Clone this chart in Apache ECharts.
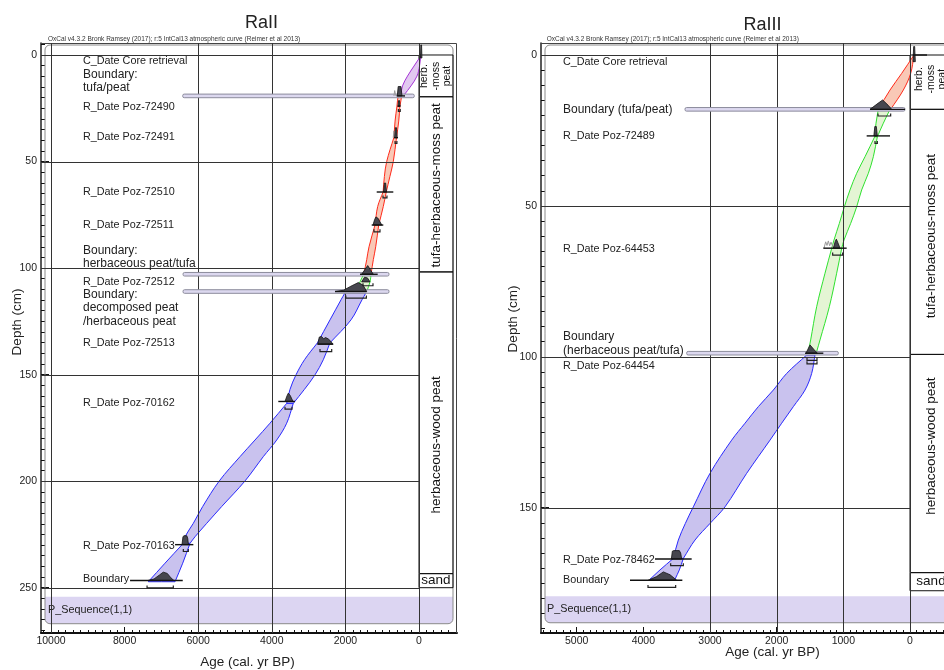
<!DOCTYPE html>
<html>
<head>
<meta charset="utf-8">
<script src="https://cdn.jsdelivr.net/npm/echarts@6/dist/echarts.min.js"></script>
<style>html,body{margin:0;padding:0;background:#fff;overflow:hidden}#chart{width:944px;height:670px}</style>
</head>
<body>
<div id="chart"></div>
<script>
const FONT = '"Liberation Sans", Arial, Helvetica, sans-serif';

// ================= RaII core =================
const raIIAgeTicks = [10000, 8000, 6000, 4000, 2000, 0];
const raIIDepthTicks = [0, 50, 100, 150, 200, 250];
const raIIAgeGrid = [10000, 6000, 4000, 2000, 0];
const raIIDepthGrid = [0, 50, 100, 150, 200, 250];

// modelled age-depth envelopes, one lens per interval between dated levels:
// rows are [depth cm, older edge, younger edge] in cal BP
const raIIPurple = [
  [[0.5, -46, -46], [5.2, 136, -14], [9.9, 312, 54], [14.5, 448, 217], [18.8, 497, 408]]
];
const raIIRed = [
  [[18.8, 562, 470], [21.5, 585, 492], [24.2, 600, 520]],
  [[24.2, 600, 520], [31.0, 650, 550], [38.6, 680, 610]],
  [[38.6, 680, 610], [50.0, 878, 698], [57.0, 940, 790], [64.3, 975, 890]],
  [[64.3, 975, 890], [71.1, 1122, 970], [79.8, 1195, 1095]],
  [[79.8, 1195, 1095], [90.0, 1358, 1176], [96.0, 1420, 1240], [102.5, 1494, 1300]]
];
const raIIGreen = [
  [[102.5, 1494, 1300], [106.5, 1603, 1331], [110.7, 1712, 1413]]
];
const raIIBlue = [
  [[111.6, 2011, 1440], [114.9, 2119, 1549], [124.3, 2418, 1848], [135.1, 2760, 2420]],
  [[135.1, 2760, 2420], [143.0, 3110, 2600], [150.1, 3342, 2826], [157.0, 3507, 3117], [163.5, 3595, 3416]],
  [[163.5, 3595, 3416], [172.8, 4049, 3595], [180.7, 4457, 3867], [188.5, 4864, 4231], [199.9, 5427, 4728],
   [211.9, 5878, 5361], [219.8, 6133, 5769], [226.1, 6359, 6087], [229.2, 6405, 6223]],
  [[229.2, 6405, 6223], [238.5, 6902, 6421], [247.2, 7356, 6630]]
];

// posterior densities: [baseline depth, [[age, height in cm], ...]]
const raIIHumps = [
  [1.4, [[-40, 0], [-50, 6.1], [-70, 6.1], [-80, 0]]],
  [19.2, [[590, 0], [565, 4.4], [490, 4.4], [462, 0]]],
  [24.0, [[570, 0], [555, 2.6], [530, 2.6], [515, 0]]],
  [38.8, [[660, 0], [640, 4.7], [612, 4.7], [592, 0]]],
  [64.3, [[962, 0], [942, 4.2], [905, 4.2], [885, 0]]],
  [79.8, [[1250, 0], [1205, 2.6], [1170, 3.8], [1120, 3.3], [1075, 2.0], [1010, 0]]],
  [102.9, [[1557, 0], [1394, 4.1], [1242, 0]]],
  [106.5, [[1560, 0], [1480, 2.2], [1400, 1.9], [1330, 0]]],
  [111.0, [[2282, 0], [2050, 0.6], [1850, 2.5], [1650, 4.2], [1520, 3.0], [1421, 0]]],
  [135.7, [[2750, 0], [2710, 3.3], [2650, 3.6], [2590, 2.5], [2540, 3.1], [2470, 2.5], [2400, 1.4], [2340, 0]]],
  [162.6, [[3641, 0], [3590, 2.5], [3551, 3.9], [3500, 2.8], [3423, 0]]],
  [229.8, [[6440, 0], [6415, 3.6], [6390, 4.2], [6310, 4.2], [6285, 3.0], [6265, 0]]],
  [246.6, [[7360, 0], [7200, 0.7], [7050, 2.6], [6950, 3.9], [6840, 3.3], [6740, 1.2], [6660, 0]]]
];
// unmodelled likelihoods (outline only)
const raIIGhosts = [
  [19.2, [[680, 0], [660, 2.5], [640, 0.8], [625, 0]]],
  [38.8, [[700, 0], [680, 3.2], [665, 1.0], [650, 0]]]
];
// [depth, from age, to age]
const raIIRanges = [
  [19.2, 606, 380], [24.0, 580, 500], [38.8, 680, 570], [64.3, 1149, 698], [79.8, 1285, 970],
  [102.9, 1603, 1122], [111.0, 2282, 1421], [135.7, 2760, 2330], [162.6, 3823, 3369],
  [229.8, 6629, 6132], [246.6, 7852, 6420]
];
const raIIBrackets = [
  [26.5, 560, 510], [41.5, 650, 600], [67.1, 978, 870], [83.0, 1223, 1060], [108.3, 1521, 1250],
  [114.1, 1990, 1430], [139.2, 2690, 2372], [166.2, 3641, 3450], [233.0, 6404, 6268], [250.1, 7390, 6676]
];
const raIIBars = [[19.2, 6421, 128], [102.9, 6412, 815], [111.0, 6412, 815]];
// lithology: [top, bottom, unit, label depth]
const raIILitho = [
  [0, 19.6, 'herb.\n-moss\npeat', 9.9],
  [19.6, 101.8, 'tufa-herbaceous-moss peat', 61.2],
  [101.8, 243.4, 'herbaceous-wood peat', 183.0],
  [243.4, 250, 'sand', 246.7]
];
const raIILabels = [
  ['C_Date Core retrieval', 2.8],
  ['Boundary:\ntufa/peat', 12.3],
  ['R_Date Poz-72490', 24.2],
  ['R_Date Poz-72491', 38.6],
  ['R_Date Poz-72510', 64.1],
  ['R_Date Poz-72511', 79.7],
  ['Boundary:\nherbaceous peat/tufa', 94.9],
  ['R_Date Poz-72512', 106.6],
  ['Boundary:\ndecomposed peat\n/herbaceous peat', 118.8],
  ['R_Date Poz-72513', 135.2],
  ['R_Date Poz-70162', 163.4],
  ['R_Date Poz-70163', 230.6],
  ['Boundary', 245.9]
];
const raIISequence = [254.2, 266.9];

// ================= RaIII core =================
const raIIIAgeTicks = [5000, 4000, 3000, 2000, 1000, 0];
const raIIIDepthTicks = [0, 50, 100, 150];
const raIIIAgeGrid = [3000, 2000, 1000, 0];
const raIIIDepthGrid = [0, 50, 100, 150];

const raIIIRed = [
  [[0, -60, -60], [6.1, 125, -10], [11.6, 300, 100], [18.0, 475, 290]]
];
const raIIIGreen = [
  [[18.0, 475, 300], [22.6, 510, 400], [27.1, 530, 490]],
  [[27.1, 530, 490], [33.7, 675, 550], [39.2, 800, 625], [44.7, 900, 725], [50.3, 985, 800],
   [55.8, 1060, 890], [61.3, 1140, 990], [64.1, 1175, 1025]],
  [[64.1, 1175, 1025], [72.3, 1275, 1100], [83.4, 1400, 1210], [94.4, 1490, 1350], [98.3, 1525, 1400]]
];
const raIIIBlue = [
  [[99.4, 1550, 1425], [105.5, 1850, 1475], [111.0, 2050, 1575], [116.5, 2275, 1750], [122.0, 2475, 1925],
   [127.6, 2675, 2100], [138.6, 3000, 2450], [149.7, 3250, 2775], [155.2, 3370, 3000], [160.7, 3475, 3225],
   [166.8, 3550, 3400]],
  [[166.8, 3550, 3400], [170.6, 3750, 3460], [173.7, 3900, 3525]]
];
const raIIIHumps = [
  [2.2, [[-45, 0], [-55, 5.0], [-70, 5.0], [-80, 0]]],
  [18.0, [[600, 0], [480, 2.0], [410, 3.1], [330, 1.4], [275, 0]]],
  [26.8, [[542, 0], [528, 3.1], [505, 3.1], [490, 0]]],
  [64.0, [[1150, 0], [1122, 2.2], [1105, 3.0], [1085, 2.0], [1050, 0]]],
  [98.8, [[1560, 0], [1500, 2.75], [1440, 1.2], [1390, 0]]],
  [167.0, [[3580, 0], [3565, 2.6], [3545, 2.8], [3460, 2.8], [3440, 2.0], [3425, 0]]],
  [174.0, [[3925, 0], [3800, 1.2], [3700, 2.75], [3600, 1.8], [3500, 0]]]
];
const raIIIGhosts = [
  [64.0, [[1290, 0], [1265, 2.1], [1245, 0.9], [1225, 2.4], [1205, 0.8], [1185, 2.0], [1160, 0.6], [1140, 0]]]
];
const raIIIRanges = [
  [0, -40, -255], [18.0, 600, 75], [26.8, 650, 300], [64.0, 1300, 950], [98.8, 1575, 1300],
  [167.0, 3825, 3275], [174.0, 4200, 3415]
];
const raIIIBrackets = [
  [20.2, 480, 290], [29.3, 525, 490], [66.3, 1160, 1010], [101.2, 1545, 1395], [102.3, 1545, 1395],
  [169.2, 3590, 3400], [176.4, 3930, 3515]
];
const raIIIBars = [[18.0, 3375, 75], [98.8, 3350, 1075]];
const raIIILitho = [
  [0, 18.0, 'herb.\n-moss\npeat', 8.0],
  [18.0, 99.2, 'tufa-herbaceous-moss peat', 60.0],
  [99.2, 171.5, 'herbaceous-wood peat', 129.6],
  [171.5, 177.5, 'sand', 174.5]
];
const raIIILabels = [
  ['C_Date Core retrieval', 2.4],
  ['Boundary (tufa/peat)', 18.0],
  ['R_Date Poz-72489', 26.7],
  ['R_Date Poz-64453', 64.3],
  ['Boundary\n(herbaceous peat/tufa)', 95.7],
  ['R_Date Poz-64454', 102.9],
  ['R_Date Poz-78462', 167.3],
  ['Boundary', 173.9]
];
const raIIISequence = [179.3, 188.1];

const HEADER = 'OxCal v4.3.2 Bronk Ramsey (2017); r:5 IntCal13 atmospheric curve (Reimer et al 2013)';

// ---------- styles ----------
const ENV_STYLE = {
  purple: { fill: '#e2c8f1', stroke: '#a534d6' },
  red: { fill: '#f9c8b6', stroke: '#ff2a1a' },
  green: { fill: '#e4f5d4', stroke: '#2fe22f' },
  blue: { fill: '#c9c2ee', stroke: '#2a2aff' }
};

// ---------- panel layout ----------
// overhang: how far the frame runs past the right edge of the grid (the RaIII frame is cut by the page edge)
const panels = [
  {
    title: 'RaII', grid: { left: 41, top: 43, width: 416, height: 590 },
    ageRange: [-1033, 10272], depthRange: [-5.63, 271.26], overhang: 0,
    ageTicks: raIIAgeTicks, depthTicks: raIIDepthTicks, ageGrid: raIIAgeGrid, depthGrid: raIIDepthGrid,
    minorAge: [-1000, 10200, 200], minorDepth: [-5, 270, 5],
    envelopes: [[raIIPurple, 'purple'], [raIIRed, 'red'], [raIIGreen, 'green'], [raIIBlue, 'blue']],
    humps: raIIHumps, ghosts: raIIGhosts, ranges: raIIRanges, brackets: raIIBrackets, bars: raIIBars,
    litho: raIILitho, labels: raIILabels, sequence: raIISequence,
    labelInset: 42, seqInset: 7,
    titlePos: [261.5, 23], headerPos: [48, 39.5], depthNamePos: [17, 322], ageNamePos: [247.5, 662.5]
  },
  {
    title: 'RaIII', grid: { left: 541, top: 43, width: 403, height: 590 },
    ageRange: [-510, 5535], depthRange: [-3.98, 191.5], overhang: 12,
    ageTicks: raIIIAgeTicks, depthTicks: raIIIDepthTicks, ageGrid: raIIIAgeGrid, depthGrid: raIIIDepthGrid,
    minorAge: [-500, 5500, 100], minorDepth: [0, 190, 5],
    envelopes: [[raIIIRed, 'red'], [raIIIGreen, 'green'], [raIIIBlue, 'blue']],
    humps: raIIIHumps, ghosts: raIIIGhosts, ranges: raIIIRanges, brackets: raIIIBrackets, bars: raIIIBars,
    litho: raIIILitho, labels: raIIILabels, sequence: raIIISequence,
    labelInset: 22, seqInset: 6,
    titlePos: [762.5, 25], headerPos: [546.7, 39.5], depthNamePos: [513, 319], ageNamePos: [772.5, 652.5]
  }
];

function steps(a, b, s) {
  const out = [];
  for (let v = a; v <= b + 1e-9; v += s) out.push(Math.round(v * 1000) / 1000);
  return out;
}
function idx(list) { return list.map((_, i) => [i, 0]); }
const plain = v => String(v);

const option = { animation: false, backgroundColor: '#fff', grid: [], xAxis: [], yAxis: [], series: [], graphic: [] };

panels.forEach((p, gi) => {
  option.grid.push(Object.assign({ show: false }, p.grid));
  const xi = option.xAxis.length, yi = option.yAxis.length;
  const xBase = { gridIndex: gi, type: 'value', inverse: true, min: p.ageRange[0], max: p.ageRange[1], position: 'bottom', splitLine: { show: false } };
  const yBase = { gridIndex: gi, type: 'value', inverse: true, min: p.depthRange[0], max: p.depthRange[1], position: 'left', splitLine: { show: false } };
  option.xAxis.push(
    Object.assign({}, xBase, {
      axisLine: { show: true, onZero: false, lineStyle: { color: '#111', width: 2 } },
      axisTick: { show: true, inside: true, length: 6, customValues: p.ageTicks, lineStyle: { color: '#111', width: 1 } },
      axisLabel: { show: true, customValues: p.ageTicks, formatter: plain, margin: 3, fontSize: 10.5, color: '#222', fontFamily: FONT }
    }),
    Object.assign({}, xBase, {
      axisLine: { show: false, onZero: false },
      axisTick: { show: true, inside: true, length: 3, customValues: steps(...p.minorAge), lineStyle: { color: '#111', width: 1 } },
      axisLabel: { show: false }
    })
  );
  option.yAxis.push(
    Object.assign({}, yBase, {
      axisLine: { show: true, onZero: false, lineStyle: { color: '#222', width: 1.5 } },
      axisTick: { show: true, inside: true, length: 8, customValues: p.depthTicks, lineStyle: { color: '#111', width: 1 } },
      axisLabel: { show: true, customValues: p.depthTicks, formatter: plain, margin: 4, fontSize: 10.5, color: '#222', fontFamily: FONT }
    }),
    Object.assign({}, yBase, {
      axisLine: { show: false, onZero: false },
      axisTick: { show: true, inside: true, length: 4, customValues: steps(...p.minorDepth), lineStyle: { color: '#111', width: 1 } },
      axisLabel: { show: false }
    })
  );
  const common = { type: 'custom', coordinateSystem: 'cartesian2d', xAxisIndex: xi, yAxisIndex: yi, clip: false, silent: true };

  // frame (top and right sides)
  option.series.push(Object.assign({}, common, {
    z: 1, data: [[0, 0]],
    renderItem: (params) => {
      const cs = params.coordSys;
      const xr = cs.x + cs.width + p.overhang - 0.5;
      return { type: 'polyline', shape: { points: [[cs.x, cs.y + 0.5], [xr, cs.y + 0.5], [xr, cs.y + cs.height]] }, style: { fill: null, stroke: '#444', lineWidth: 1 } };
    }
  }));

  // P_Sequence group box with its label band
  option.series.push(Object.assign({}, common, {
    z: 1, data: [[0, 0]],
    renderItem: (params, api) => {
      const cs = params.coordSys;
      const x0 = cs.x + 4, x1 = cs.x + cs.width + p.overhang - 4;
      const yTop = cs.y + 2;
      const yb0 = api.coord([0, p.sequence[0]])[1];
      const yb1 = api.coord([0, p.sequence[1]])[1];
      return { type: 'group', children: [
        { type: 'rect', shape: { x: x0, y: yb0, width: x1 - x0, height: yb1 - yb0, r: [0, 0, 5, 5] }, style: { fill: '#dcd5f2' } },
        { type: 'rect', shape: { x: x0, y: yTop, width: x1 - x0, height: yb1 - yTop, r: 5 }, style: { fill: null, stroke: '#8a8a8a', lineWidth: 1 } },
        { type: 'text', x: cs.x + p.seqInset, y: (yb0 + yb1) / 2, style: { text: 'P_Sequence(1,1)', fill: '#222', fontSize: 10.8, fontFamily: FONT, align: 'left', verticalAlign: 'middle' } }
      ] };
    }
  }));

  // lithology column
  option.series.push(Object.assign({}, common, {
    z: 2, data: idx(p.litho),
    renderItem: (params, api) => {
      const [top, bottom, unit, mid] = p.litho[params.dataIndex];
      const cs = params.coordSys;
      const [x0, y0] = api.coord([0, top]);
      const y1 = api.coord([0, bottom])[1];
      const ym = api.coord([0, mid])[1];
      const x1 = cs.x + cs.width + p.overhang - 4;
      const tall = (y1 - y0) > 30;
      const multi = unit.indexOf('\n') >= 0;
      return { type: 'group', children: [
        { type: 'rect', shape: { x: x0, y: y0, width: x1 - x0, height: y1 - y0 }, style: { fill: null, stroke: '#111', lineWidth: 1 } },
        { type: 'text', x: (x0 + x1) / 2, y: ym, rotation: tall ? Math.PI / 2 : 0,
          style: { text: unit, fill: '#111', fontSize: multi ? 10.5 : 13.5, lineHeight: multi ? 11.5 : 15, fontFamily: FONT, align: 'center', verticalAlign: 'middle' } }
      ] };
    }
  }));

  // modelled envelopes, one smooth lens per interval
  const lenses = [];
  p.envelopes.forEach(([list, key]) => list.forEach(rows => lenses.push([rows, key])));
  option.series.push(Object.assign({}, common, {
    z: 3, data: idx(lenses),
    renderItem: (params, api) => {
      const [rows, key] = lenses[params.dataIndex];
      const st = ENV_STYLE[key];
      const older = rows.map(r => api.coord([r[1], r[0]]));
      const younger = rows.map(r => api.coord([r[2], r[0]])).reverse();
      // repeat the end points so the lens keeps sharp tips
      const n = older.length - 1;
      const pts = [older[0]].concat(older, [older[n], younger[0]], younger, [younger[n]]);
      return { type: 'polygon', shape: { points: pts, smooth: 0.35, smoothConstraint: false },
        style: { fill: st.fill, stroke: st.stroke, lineWidth: 1 } };
    }
  }));

  // grid lines
  option.series.push(Object.assign({}, common, {
    z: 4, data: idx(p.ageGrid),
    renderItem: (params, api) => {
      const cs = params.coordSys;
      const x = Math.round(api.coord([p.ageGrid[params.dataIndex], 0])[0]) + 0.5;
      return { type: 'line', shape: { x1: x, y1: cs.y, x2: x, y2: cs.y + cs.height }, style: { stroke: '#333', lineWidth: 1 } };
    }
  }));
  option.series.push(Object.assign({}, common, {
    z: 4, data: idx(p.depthGrid),
    renderItem: (params, api) => {
      const cs = params.coordSys;
      const [xe, yy] = api.coord([0, p.depthGrid[params.dataIndex]]);
      const y = Math.round(yy) + 0.5;
      return { type: 'line', shape: { x1: cs.x, y1: y, x2: xe, y2: y }, style: { stroke: '#333', lineWidth: 1 } };
    }
  }));

  // boundary bars
  option.series.push(Object.assign({}, common, {
    z: 5, data: idx(p.bars),
    renderItem: (params, api) => {
      const [d, a0, a1] = p.bars[params.dataIndex];
      const [x0, y] = api.coord([a0, d]);
      const x1 = api.coord([a1, d])[0];
      return { type: 'rect', shape: { x: x0, y: y - 1.8, width: x1 - x0, height: 3.6, r: 1.5 }, style: { fill: '#dcd8ef', stroke: '#8c8c9c', lineWidth: 1 } };
    }
  }));

  // unmodelled likelihood outlines
  option.series.push(Object.assign({}, common, {
    z: 6, data: idx(p.ghosts),
    renderItem: (params, api) => {
      const [d, pts] = p.ghosts[params.dataIndex];
      return { type: 'polyline', shape: { points: pts.map(q => api.coord([q[0], d - q[1]])) }, style: { fill: null, stroke: '#9a9a9a', lineWidth: 1 } };
    }
  }));

  // posterior densities
  option.series.push(Object.assign({}, common, {
    z: 7, data: idx(p.humps),
    renderItem: (params, api) => {
      const [d, pts] = p.humps[params.dataIndex];
      return { type: 'polygon', shape: { points: pts.map(q => api.coord([q[0], d - q[1]])) }, style: { fill: '#46464e', stroke: '#111', lineWidth: 0.8 } };
    }
  }));

  // ranges under each density
  option.series.push(Object.assign({}, common, {
    z: 8, data: idx(p.ranges),
    renderItem: (params, api) => {
      const [d, a0, a1] = p.ranges[params.dataIndex];
      const [x0, y] = api.coord([a0, d]);
      const x1 = api.coord([a1, d])[0];
      return { type: 'line', shape: { x1: x0, y1: y, x2: x1, y2: y }, style: { stroke: '#111', lineWidth: 1.4 } };
    }
  }));

  // 95% brackets
  option.series.push(Object.assign({}, common, {
    z: 8, data: idx(p.brackets),
    renderItem: (params, api) => {
      const [d, a0, a1] = p.brackets[params.dataIndex];
      const [x0, y] = api.coord([a0, d]);
      const x1 = api.coord([a1, d])[0];
      return { type: 'polyline', shape: { points: [[x0, y - 2.5], [x0, y], [x1, y], [x1, y - 2.5]] }, style: { fill: null, stroke: '#222', lineWidth: 1.2 } };
    }
  }));

  // item labels
  option.series.push(Object.assign({}, common, {
    z: 9, data: idx(p.labels),
    renderItem: (params, api) => {
      const [text, d] = p.labels[params.dataIndex];
      const cs = params.coordSys;
      const big = text.indexOf('Boundary') === 0 && text !== 'Boundary';
      return { type: 'text', x: cs.x + p.labelInset, y: api.coord([0, d])[1],
        style: { text: text, fill: '#222', fontSize: big ? 12 : 10.8, lineHeight: 13.6, fontFamily: FONT, align: 'left', verticalAlign: 'middle' } };
    }
  }));

  // titles, header and axis names
  option.graphic.push(
    { type: 'text', x: p.titlePos[0], y: p.titlePos[1], style: { text: p.title, fontSize: 18, fontFamily: FONT, fill: '#222', align: 'center', verticalAlign: 'middle' } },
    { type: 'text', x: p.headerPos[0], y: p.headerPos[1], style: { text: HEADER, fontSize: 6.5, fontFamily: FONT, fill: '#333', align: 'left', verticalAlign: 'middle' } },
    { type: 'text', x: p.depthNamePos[0], y: p.depthNamePos[1], rotation: Math.PI / 2, style: { text: 'Depth (cm)', fontSize: 13.5, fontFamily: FONT, fill: '#222', align: 'center', verticalAlign: 'middle' } },
    { type: 'text', x: p.ageNamePos[0], y: p.ageNamePos[1], style: { text: 'Age (cal. yr BP)', fontSize: 13.5, fontFamily: FONT, fill: '#222', align: 'center', verticalAlign: 'middle' } }
  );
});

const chart = echarts.init(document.getElementById('chart'), null, { renderer: 'canvas' });
chart.setOption(option);
</script>
</body>
</html>
